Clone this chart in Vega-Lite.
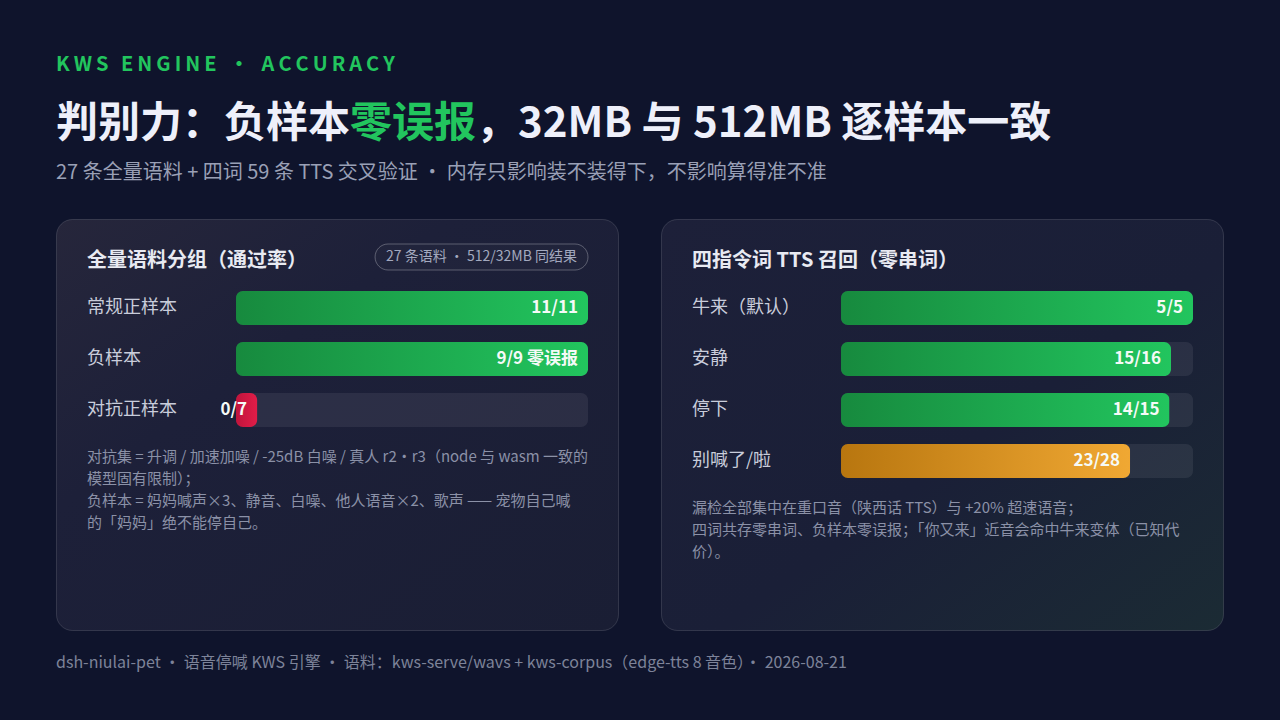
{
  "$schema": "https://vega.github.io/schema/vega-lite/v6.json",
  "background": "#0f142c",
  "padding": {"left": 55, "right": 58, "top": 0, "bottom": 38},
  "spacing": 11,
  "config": {"font": "Noto Sans CJK SC", "view": {"stroke": null}, "axis": {"disable": true}},
  "datasets": {
    "header": [
      {"part": "kicker", "seg": "k", "text": "K\u2009W\u2009S\u2009 \u2009E\u2009N\u2009G\u2009I\u2009N\u2009E\u2009 \u2009・\u2009 \u2009A\u2009C\u2009C\u2009U\u2009R\u2009A\u2009C\u2009Y"},
      {"part": "title", "seg": "a", "text": "判别力：负样本"},
      {"part": "title", "seg": "b", "text": "零误报"},
      {"part": "title", "seg": "c", "text": "，32MB 与 512MB 逐样本一致"},
      {"part": "subtitle", "seg": "s", "text": "27 条全量语料 + 四词 59 条 TTS 交叉验证 ・ 内存只影响装不装得下，不影响算得准不准"}
    ],
    "footer": [
      {"text": "dsh-niulai-pet ・ 语音停喊 KWS 引擎 ・ 语料：kws-serve/wavs + kws-corpus（edge-tts 8 音色）・ 2026-08-21"}
    ],
    "cards": [
      {"card": "full", "head": "全量语料分组（通过率）", "badge": "27 条语料 ・ 512/32MB 同结果", "note": "对抗集 = 升调 / 加速加噪 / -25dB 白噪 / 真人 r2・r3（node 与 wasm 一致的\n模型固有限制）；\n负样本 = 妈妈喊声×3、静音、白噪、他人语音×2、歌声 —— 宠物自己喊\n的「妈妈」绝不能停自己。"},
      {"card": "tts", "head": "四指令词 TTS 召回（零串词）", "badge": null, "note": "漏检全部集中在重口音（陕西话 TTS）与 +20% 超速语音；\n四词共存零串词、负样本零误报；「你又来」近音会命中牛来变体（已知代\n价）。"}
    ],
    "full": [
      {"label": "常规正样本", "pass": 11, "total": 11, "rate": 1, "text": "11/11"},
      {"label": "负样本", "pass": 9, "total": 9, "rate": 1, "text": "9/9 零误报"},
      {"label": "对抗正样本", "pass": 0, "total": 7, "rate": 0, "text": "0/7"}
    ],
    "tts": [
      {"label": "牛来（默认）", "pass": 5, "total": 5, "rate": 1, "text": "5/5"},
      {"label": "安静", "pass": 15, "total": 16, "rate": 0.9375, "text": "15/16"},
      {"label": "停下", "pass": 14, "total": 15, "rate": 0.9333, "text": "14/15"},
      {"label": "别喊了/啦", "pass": 23, "total": 28, "rate": 0.8214, "text": "23/28"}
    ]
  },
  "vconcat": [
    {
      "width": 1166,
      "height": 207,
      "data": {"name": "header"},
      "encoding": {
        "x": {"datum": 0, "type": "quantitative", "scale": {"domain": [0, 1]}, "axis": null},
        "y": {"field": "part", "type": "nominal", "axis": null, "scale": {"type": "point", "domain": ["kicker", "title", "subtitle"], "padding": 0.9167, "align": 0.6566}}
      },
      "layer": [
        {"transform": [{"filter": "datum.seg == 'k'"}], "mark": {"type": "text", "align": "left", "baseline": "middle", "fontSize": 20, "fontWeight": "bold", "color": "#22c55e"}, "encoding": {"text": {"field": "text"}}},
        {"transform": [{"filter": "datum.seg == 'a'"}], "mark": {"type": "text", "align": "left", "baseline": "middle", "fontSize": 42, "fontWeight": "bold", "color": "#eef0fa", "dy": 5}, "encoding": {"text": {"field": "text"}}},
        {"transform": [{"filter": "datum.seg == 'b'"}], "mark": {"type": "text", "align": "left", "baseline": "middle", "fontSize": 42, "fontWeight": "bold", "color": "#22c55e", "dy": 5, "dx": 294}, "encoding": {"text": {"field": "text"}}},
        {"transform": [{"filter": "datum.seg == 'c'"}], "mark": {"type": "text", "align": "left", "baseline": "middle", "fontSize": 42, "fontWeight": "bold", "color": "#eef0fa", "dy": 5, "dx": 420}, "encoding": {"text": {"field": "text"}}},
        {"transform": [{"filter": "datum.seg == 's'"}], "mark": {"type": "text", "align": "left", "baseline": "middle", "fontSize": 20, "color": "#9aa0b6"}, "encoding": {"text": {"field": "text"}}}
      ]
    },
    {
      "hconcat": [
        {
          "width": 562,
          "height": 411,
          "view": {"fill": {"gradient": "linear", "x1": 0, "y1": 0, "x2": 1, "y2": 1, "stops": [{"offset": 0, "color": "#26263b"}, {"offset": 0.35, "color": "#1d2039"}, {"offset": 1, "color": "#1a1e34"}]}, "stroke": "#ffffff", "strokeOpacity": 0.13, "cornerRadius": 16},
          "layer": [
            {
              "data": {"name": "full"},
              "mark": {"type": "bar", "cornerRadius": 7, "fill": "#ffffff", "fillOpacity": 0.07},
              "encoding": {
                "y": {"field": "label", "type": "nominal", "axis": null, "scale": {"type": "band", "domain": ["§h", "常规正样本", "负样本", "对抗正样本", "§n"], "range": [21, 259], "paddingInner": 0.3333, "paddingOuter": 0}},
                "x": {"datum": 0, "type": "quantitative", "axis": null, "scale": {"domain": [-0.5114, 1.0852], "nice": false, "zero": false}},
                "x2": {"datum": 1}
              }
            },
            {
              "data": {"name": "full"},
              "transform": [{"filter": "datum.rate >= 0.9"}],
              "mark": {"type": "bar", "cornerRadius": 7, "fill": {"gradient": "linear", "x1": 0, "y1": 0, "x2": 1, "y2": 0, "stops": [{"offset": 0, "color": "#178a3e"}, {"offset": 1, "color": "#22c55e"}]}},
              "encoding": {"y": {"field": "label", "type": "nominal"}, "x": {"field": "rate", "type": "quantitative"}}
            },
            {
              "data": {"name": "full"},
              "transform": [{"filter": "datum.rate > 0 && datum.rate < 0.9"}],
              "mark": {"type": "bar", "cornerRadius": 7, "fill": {"gradient": "linear", "x1": 0, "y1": 0, "x2": 1, "y2": 0, "stops": [{"offset": 0, "color": "#b8760f"}, {"offset": 1, "color": "#f0a833"}]}},
              "encoding": {"y": {"field": "label", "type": "nominal"}, "x": {"field": "rate", "type": "quantitative"}}
            },
            {
              "data": {"name": "full"},
              "transform": [{"filter": "datum.rate == 0"}],
              "mark": {"type": "bar", "cornerRadius": 7, "fill": {"gradient": "linear", "x1": 0, "y1": 0, "x2": 1, "y2": 0, "stops": [{"offset": 0, "color": "#c0143c"}, {"offset": 1, "color": "#e11d48"}]}},
              "encoding": {"y": {"field": "label", "type": "nominal"}, "x": {"datum": 0, "type": "quantitative"}, "x2": {"datum": 0.06}}
            },
            {
              "data": {"name": "full"},
              "transform": [{"filter": "datum.rate > 0"}],
              "mark": {"type": "text", "align": "right", "baseline": "middle", "dx": -10, "fontSize": 17, "fontWeight": "bold", "color": "#f5faf7"},
              "encoding": {"y": {"field": "label", "type": "nominal"}, "x": {"field": "rate", "type": "quantitative"}, "text": {"field": "text"}}
            },
            {
              "data": {"name": "full"},
              "transform": [{"filter": "datum.rate == 0"}],
              "mark": {"type": "text", "align": "right", "baseline": "middle", "dx": -10, "fontSize": 17, "fontWeight": "bold", "color": "#f5faf7"},
              "encoding": {"y": {"field": "label", "type": "nominal"}, "x": {"datum": 0.06, "type": "quantitative"}, "text": {"field": "text"}}
            },
            {
              "data": {"name": "full"},
              "mark": {"type": "text", "align": "left", "baseline": "middle", "fontSize": 18, "color": "#c9cddb"},
              "encoding": {"y": {"field": "label", "type": "nominal"}, "x": {"datum": -0.4233, "type": "quantitative"}, "text": {"field": "label"}}
            },
            {
              "data": {"name": "cards"},
              "transform": [{"filter": "datum.card == 'full'"}],
              "mark": {"type": "text", "align": "left", "baseline": "middle", "fontSize": 20, "fontWeight": "bold", "color": "#e8eaf2", "dy": 4},
              "encoding": {"y": {"datum": "§h", "type": "nominal"}, "x": {"datum": -0.4233, "type": "quantitative"}, "text": {"field": "head"}}
            },
            {
              "data": {"name": "cards"},
              "transform": [{"filter": "datum.card == 'full'"}],
              "mark": {"type": "bar", "height": {"band": 0.765}, "cornerRadius": 13, "fill": "#ffffff", "fillOpacity": 0.02, "stroke": "#ffffff", "strokeOpacity": 0.28, "strokeWidth": 1},
              "encoding": {"y": {"datum": "§h", "type": "nominal"}, "x": {"datum": 0.395, "type": "quantitative"}, "x2": {"datum": 1}}
            },
            {
              "data": {"name": "cards"},
              "transform": [{"filter": "datum.card == 'full'"}],
              "mark": {"type": "text", "align": "right", "baseline": "middle", "dx": -11, "fontSize": 14, "color": "#a3a9bf"},
              "encoding": {"y": {"datum": "§h", "type": "nominal"}, "x": {"datum": 1, "type": "quantitative"}, "text": {"field": "badge"}}
            },
            {
              "data": {"name": "cards"},
              "transform": [{"filter": "datum.card == 'full'"}],
              "mark": {"type": "text", "align": "left", "baseline": "top", "dy": -11, "fontSize": 15, "lineHeight": 22, "lineBreak": "\n", "color": "#8b91a7"},
              "encoding": {"y": {"datum": "§n", "type": "nominal"}, "x": {"datum": -0.4233, "type": "quantitative"}, "text": {"field": "note"}}
            }
          ]
        },
        {
          "width": 562,
          "height": 411,
          "view": {"fill": {"gradient": "linear", "x1": 0, "y1": 0, "x2": 1, "y2": 1, "stops": [{"offset": 0, "color": "#1d2039"}, {"offset": 0.55, "color": "#1a1f37"}, {"offset": 1, "color": "#1b2b34"}]}, "stroke": "#ffffff", "strokeOpacity": 0.13, "cornerRadius": 16},
          "layer": [
            {
              "data": {"name": "tts"},
              "mark": {"type": "bar", "cornerRadius": 7, "fill": "#ffffff", "fillOpacity": 0.07},
              "encoding": {
                "y": {"field": "label", "type": "nominal", "axis": null, "scale": {"type": "band", "domain": ["§h", "牛来（默认）", "安静", "停下", "别喊了/啦", "§n"], "range": [21, 310], "paddingInner": 0.3333, "paddingOuter": 0}},
                "x": {"datum": 0, "type": "quantitative", "axis": null, "scale": {"domain": [-0.5114, 1.0852], "nice": false, "zero": false}},
                "x2": {"datum": 1}
              }
            },
            {
              "data": {"name": "tts"},
              "transform": [{"filter": "datum.rate >= 0.9"}],
              "mark": {"type": "bar", "cornerRadius": 7, "fill": {"gradient": "linear", "x1": 0, "y1": 0, "x2": 1, "y2": 0, "stops": [{"offset": 0, "color": "#178a3e"}, {"offset": 1, "color": "#22c55e"}]}},
              "encoding": {"y": {"field": "label", "type": "nominal"}, "x": {"field": "rate", "type": "quantitative"}}
            },
            {
              "data": {"name": "tts"},
              "transform": [{"filter": "datum.rate > 0 && datum.rate < 0.9"}],
              "mark": {"type": "bar", "cornerRadius": 7, "fill": {"gradient": "linear", "x1": 0, "y1": 0, "x2": 1, "y2": 0, "stops": [{"offset": 0, "color": "#b8760f"}, {"offset": 1, "color": "#f0a833"}]}},
              "encoding": {"y": {"field": "label", "type": "nominal"}, "x": {"field": "rate", "type": "quantitative"}}
            },
            {
              "data": {"name": "tts"},
              "transform": [{"filter": "datum.rate > 0"}],
              "mark": {"type": "text", "align": "right", "baseline": "middle", "dx": -10, "fontSize": 17, "fontWeight": "bold", "color": "#f5faf7"},
              "encoding": {"y": {"field": "label", "type": "nominal"}, "x": {"field": "rate", "type": "quantitative"}, "text": {"field": "text"}}
            },
            {
              "data": {"name": "tts"},
              "mark": {"type": "text", "align": "left", "baseline": "middle", "fontSize": 18, "color": "#c9cddb"},
              "encoding": {"y": {"field": "label", "type": "nominal"}, "x": {"datum": -0.4233, "type": "quantitative"}, "text": {"field": "label"}}
            },
            {
              "data": {"name": "cards"},
              "transform": [{"filter": "datum.card == 'tts'"}],
              "mark": {"type": "text", "align": "left", "baseline": "middle", "fontSize": 20, "fontWeight": "bold", "color": "#e8eaf2", "dy": 4},
              "encoding": {"y": {"datum": "§h", "type": "nominal"}, "x": {"datum": -0.4233, "type": "quantitative"}, "text": {"field": "head"}}
            },
            {
              "data": {"name": "cards"},
              "transform": [{"filter": "datum.card == 'tts'"}],
              "mark": {"type": "text", "align": "left", "baseline": "top", "dy": -11, "fontSize": 15, "lineHeight": 22, "lineBreak": "\n", "color": "#8b91a7"},
              "encoding": {"y": {"datum": "§n", "type": "nominal"}, "x": {"datum": -0.4233, "type": "quantitative"}, "text": {"field": "note"}}
            }
          ]
        }
      ],
      "spacing": 41
    },
    {
      "width": 1166,
      "height": 42,
      "data": {"name": "footer"},
      "mark": {"type": "text", "align": "left", "baseline": "middle", "fontSize": 16, "color": "#7d8399"},
      "encoding": {
        "x": {"datum": 0, "type": "quantitative", "scale": {"domain": [0, 1]}, "axis": null},
        "text": {"field": "text"}
      }
    }
  ]
}
